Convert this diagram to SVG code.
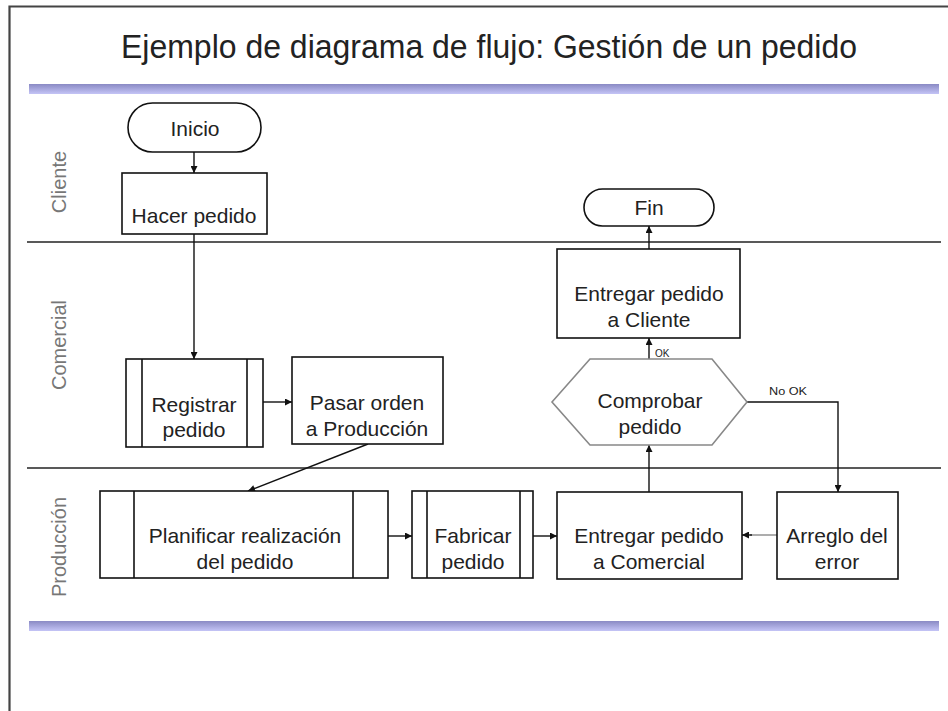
<svg xmlns="http://www.w3.org/2000/svg" width="948" height="711" viewBox="0 0 948 711">
<defs>
<linearGradient id="bar" x1="0" y1="0" x2="0" y2="1">
<stop offset="0" stop-color="#8a8ac4"/>
<stop offset="1" stop-color="#c4c4f6"/>
</linearGradient>
<marker id="ah" viewBox="0 0 10 10" refX="10" refY="5" markerWidth="8" markerHeight="7" markerUnits="userSpaceOnUse" orient="auto">
<path d="M0,0 L10,5 L0,10 z" fill="#111"/>
</marker>
</defs>
<style>
.box{fill:#fff;stroke:#111;stroke-width:1.6}
.hex{fill:#fff;stroke:#888;stroke-width:1.6}
.t{font-family:"Liberation Sans",Arial,sans-serif;font-size:21px;fill:#222;text-anchor:middle}
.lane{font-family:"Liberation Sans",Arial,sans-serif;font-size:20px;fill:#777;text-anchor:middle}
.small{font-family:"Liberation Sans",Arial,sans-serif;font-size:10px;fill:#222}
.c{fill:none;stroke:#111;stroke-width:1.4;marker-end:url(#ah)}
.sep{stroke:#222;stroke-width:1.6}
</style>
<rect width="948" height="711" fill="#fff"/>
<path d="M9.5,711 V6.5 H948" fill="none" stroke="#444" stroke-width="2.2"/>
<text x="489" y="58" font-family="'Liberation Sans',Arial,sans-serif" font-size="34" fill="#222" text-anchor="middle" textLength="736" lengthAdjust="spacingAndGlyphs">Ejemplo de diagrama de flujo: Gestión de un pedido</text>
<rect x="29" y="84" width="910" height="10" fill="url(#bar)"/>
<rect x="29" y="621" width="910" height="10" fill="url(#bar)"/>
<g id="lanes">
<line class="sep" x1="27" y1="242" x2="941" y2="242"/>
<line class="sep" x1="27" y1="468" x2="941" y2="468"/>
<text class="lane" transform="translate(66,182) rotate(-90)">Cliente</text>
<text class="lane" transform="translate(66,345) rotate(-90)">Comercial</text>
<text class="lane" transform="translate(66,547) rotate(-90)">Producción</text>
</g>
<g id="connectors">
<line class="c" x1="194" y1="152" x2="194" y2="173"/>
<line class="c" x1="194" y1="234" x2="194" y2="359"/>
<line class="c" x1="263" y1="402" x2="292" y2="402"/>
<line class="c" x1="368" y1="444" x2="248" y2="491"/>
<line class="c" x1="388" y1="536" x2="412" y2="536"/>
<line class="c" x1="533" y1="536" x2="557" y2="536"/>
<line class="c" x1="649" y1="492" x2="649" y2="445"/>
<line class="c" x1="649" y1="359" x2="649" y2="338"/>
<line class="c" x1="649" y1="249" x2="649" y2="226"/>
<polyline class="c" points="747,402 838,402 838,492"/>
<line x1="777" y1="535" x2="750" y2="535" stroke="#999" stroke-width="1.6"/>
<line class="c" x1="752" y1="535" x2="742" y2="535"/>
<text class="small" x="655" y="357">OK</text>
<text class="small" x="769" y="395" textLength="38" lengthAdjust="spacingAndGlyphs">No OK</text>
</g>
<g id="inicio">
<rect class="box" x="128" y="103" width="133" height="49" rx="24.5"/>
<text class="t" x="195" y="136">Inicio</text>
</g>
<g id="hacer">
<rect class="box" x="122" y="173" width="145" height="61"/>
<text class="t" x="194" y="223">Hacer pedido</text>
</g>
<g id="registrar">
<rect class="box" x="126" y="359" width="137" height="88"/>
<line class="box" x1="142" y1="359" x2="142" y2="447"/>
<line class="box" x1="247" y1="359" x2="247" y2="447"/>
<text class="t" x="194" y="412">Registrar</text>
<text class="t" x="194" y="437">pedido</text>
</g>
<g id="pasar">
<rect class="box" x="292" y="357" width="151" height="87"/>
<text class="t" x="367" y="410">Pasar orden</text>
<text class="t" x="367" y="436">a Producción</text>
</g>
<g id="planificar">
<rect class="box" x="100" y="491" width="288" height="87"/>
<line class="box" x1="134" y1="491" x2="134" y2="578"/>
<line class="box" x1="353" y1="491" x2="353" y2="578"/>
<text class="t" x="245" y="543">Planificar realización</text>
<text class="t" x="245" y="569">del pedido</text>
</g>
<g id="fabricar">
<rect class="box" x="412" y="491" width="121" height="87"/>
<line class="box" x1="427" y1="491" x2="427" y2="578"/>
<line class="box" x1="520" y1="491" x2="520" y2="578"/>
<text class="t" x="473" y="543">Fabricar</text>
<text class="t" x="473" y="569">pedido</text>
</g>
<g id="entregar-comercial">
<rect class="box" x="557" y="492" width="185" height="87"/>
<text class="t" x="649" y="543">Entregar pedido</text>
<text class="t" x="649" y="569">a Comercial</text>
</g>
<g id="arreglo">
<rect class="box" x="777" y="492" width="121" height="87"/>
<text class="t" x="837" y="543">Arreglo del</text>
<text class="t" x="837" y="569">error</text>
</g>
<g id="comprobar">
<polygon class="hex" points="552,402 590,359 712,359 747,402 712,445 590,445"/>
<text class="t" x="650" y="408">Comprobar</text>
<text class="t" x="650" y="434">pedido</text>
</g>
<g id="entregar-cliente">
<rect class="box" x="557" y="249" width="183" height="89"/>
<text class="t" x="649" y="301">Entregar pedido</text>
<text class="t" x="649" y="327">a Cliente</text>
</g>
<g id="fin">
<rect class="box" x="584" y="189" width="130" height="37" rx="18.5"/>
<text class="t" x="649" y="215">Fin</text>
</g>
</svg>
